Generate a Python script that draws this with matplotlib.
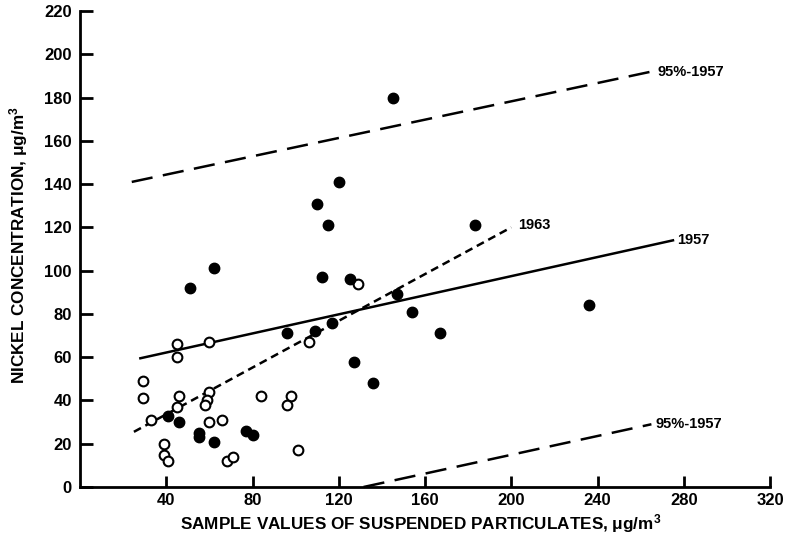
import numpy as np
import matplotlib
matplotlib.use('Agg')
import matplotlib.pyplot as plt

plt.rcParams['font.family'] = ['Liberation Sans Narrow', 'Liberation Sans', 'DejaVu Sans']
plt.rcParams['font.weight'] = 'bold'
plt.rcParams['mathtext.default'] = 'regular'

# filled points
filled_x = [145, 120, 110, 115, 62, 112, 125, 51, 96, 109, 117, 147, 127, 136,
            41, 46, 55, 55, 62, 77, 80, 154, 167, 236, 183]
filled_y = [180, 141, 131, 121, 101, 97, 96, 92, 71, 72, 76, 89, 58, 48,
            33, 30, 25, 23, 21, 26, 24, 81, 71, 84, 121]

# open points
open_x = [129, 106, 45, 60, 45, 29, 29, 46, 45, 60, 59, 58, 84, 98, 96,
          33, 60, 66, 39, 39, 41, 68, 71, 101]
open_y = [94, 67, 66, 67, 60, 49, 41, 42, 37, 44, 40, 38, 42, 42, 38,
          31, 30, 31, 20, 15, 12, 12, 14, 17]

# regression lines (end points)
line_1957_x = [28, 275]
line_1957_y = [59.5, 114]
line_1963_x = [25, 200]
line_1963_y = [25.5, 120]
upper_95_x = [24, 265]
upper_95_y = [141, 192]
lower_95_x = [131.5, 265]
lower_95_y = [0, 29]

fig = plt.figure(figsize=(7.86, 5.52), dpi=100)
ax = fig.add_axes([80 / 786, 65 / 552, 690 / 786, 476 / 552])

lw = 1.8
ax.plot(line_1957_x, line_1957_y, 'k-', lw=lw)
ax.plot(line_1963_x, line_1963_y, 'k', lw=lw, dashes=(3.2, 2.0))
ax.plot(upper_95_x, upper_95_y, 'k', lw=lw, dashes=(8.5, 4.2))
ax.plot(lower_95_x, lower_95_y, 'k', lw=lw, dashes=(8.5, 4.2), clip_on=False)

ax.plot(open_x, open_y, 'o', ms=7, mfc='white', mec='k', mew=1.5, zorder=3)
ax.plot(filled_x, filled_y, 'o', ms=7.5, mfc='k', mec='k', zorder=4)

ax.text(268, 192, '95%-1957', fontsize=10.5, va='center', ha='left')
ax.text(203, 121, '1963', fontsize=10.5, va='center', ha='left')
ax.text(277, 114, '1957', fontsize=10.5, va='center', ha='left')
ax.text(267, 29, '95%-1957', fontsize=10.5, va='center', ha='left')

ax.set_xlim(0, 320)
ax.set_ylim(0, 220)
ax.set_xticks(np.arange(40, 321, 40))
ax.set_yticks(np.arange(0, 221, 20))

for s in ['top', 'right']:
    ax.spines[s].set_visible(False)
for s in ['left', 'bottom']:
    ax.spines[s].set_linewidth(2)

ax.tick_params(axis='y', direction='in', length=9, width=2, pad=6, labelsize=12)
ax.tick_params(axis='x', direction='in', length=8, width=2, pad=4, labelsize=12)

fig.text(0.535, 0.052, 'SAMPLE VALUES OF SUSPENDED PARTICULATES, $\\mu$g/m$^3$',
         ha='center', va='center', fontsize=12.3)
fig.text(0.023, 0.555, 'NICKEL CONCENTRATION, $\\mu$g/m$^3$',
         ha='center', va='center', rotation=90, fontsize=12.3)

plt.savefig('out.png', dpi=100)
